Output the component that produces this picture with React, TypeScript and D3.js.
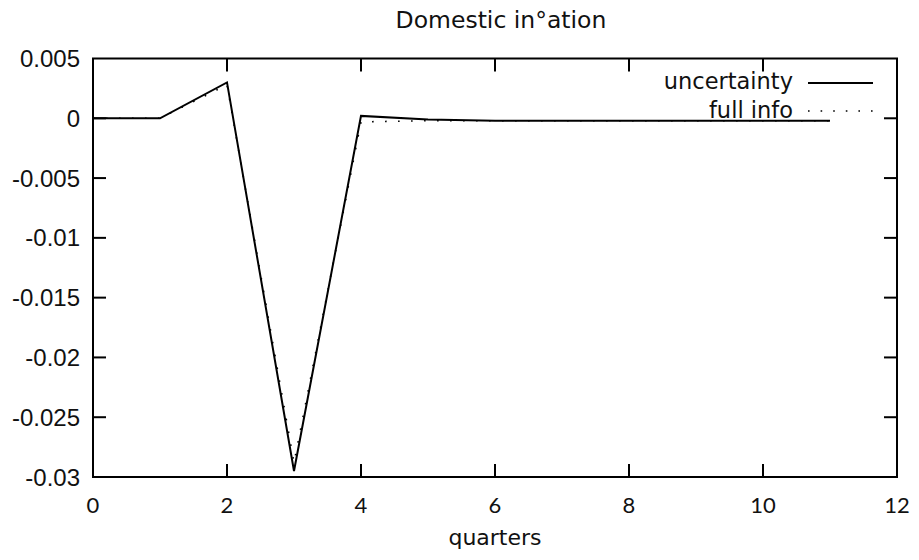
import React, { useEffect, useRef } from "react";
import * as d3 from "d3";

// quarters after the shock
const quarters = [0, 1, 2, 3, 4, 5, 6, 7, 8, 9, 10, 11];
// response of domestic inflation under uncertainty
const uncertainty = [0, 0, 0.003, -0.0295, 0.0002, -0.0001, -0.0002, -0.0002, -0.0002, -0.0002, -0.0002, -0.0002];
// response under full information
const fullInfo = [0, 0, 0.0028, -0.0288, -0.0003, -0.0002, -0.0002, -0.0002, -0.0002, -0.0002, -0.0002, -0.0002];

const xTicks = [0, 2, 4, 6, 8, 10, 12];
const yTicks = [0.005, 0, -0.005, -0.01, -0.015, -0.02, -0.025, -0.03];

const labelFont = "'DejaVu Sans', sans-serif";
const xTickFont = "Lato, sans-serif";
const yTickFont = "'Liberation Sans', Arial, sans-serif";

export default function App() {
  const svgRef = useRef<SVGSVGElement | null>(null);

  useEffect(() => {
    const svg = d3.select(svgRef.current);
    svg.selectAll("*").remove();

    const width = 919;
    const height = 560;
    const margin = { top: 58.5, right: 22, bottom: 83, left: 93 };

    const x = d3.scaleLinear().domain([0, 12]).range([margin.left, width - margin.right]);
    const y = d3.scaleLinear().domain([-0.03, 0.005]).range([height - margin.bottom, margin.top]);

    const tickLen = 13;
    const x0 = x(0), x1 = x(12), y0 = y(-0.03), y1 = y(0.005);

    // ticks on all four sides, pointing inwards (gnuplot style)
    const ticks = svg.append("g").attr("stroke", "#000").attr("stroke-width", 2);
    xTicks.slice(1, -1).forEach((t) => {
      ticks.append("line").attr("x1", x(t)).attr("x2", x(t)).attr("y1", y0).attr("y2", y0 - tickLen);
      ticks.append("line").attr("x1", x(t)).attr("x2", x(t)).attr("y1", y1).attr("y2", y1 + tickLen);
    });
    yTicks.slice(1, -1).forEach((t) => {
      ticks.append("line").attr("x1", x0).attr("x2", x0 + tickLen).attr("y1", y(t)).attr("y2", y(t));
      ticks.append("line").attr("x1", x1).attr("x2", x1 - tickLen).attr("y1", y(t)).attr("y2", y(t));
    });

    // border
    svg.append("rect")
      .attr("x", x0).attr("y", y1)
      .attr("width", x1 - x0).attr("height", y0 - y1)
      .attr("fill", "none").attr("stroke", "#000").attr("stroke-width", 2);

    // tick labels
    svg.append("g").selectAll("text").data(yTicks).join("text")
      .attr("x", 80).attr("y", (d) => y(d) + 8.5)
      .attr("text-anchor", "end")
      .attr("font-family", yTickFont).attr("font-size", 24)
      .attr("fill", "#111")
      .text((d) => (d === 0 ? "0" : String(d)));

    svg.append("g").selectAll("text").data(xTicks).join("text")
      .attr("x", (d) => x(d)).attr("y", 513)
      .attr("text-anchor", "middle")
      .attr("font-family", xTickFont).attr("font-size", 22)
      .attr("fill", "#111")
      .text((d) => String(d));

    // title and axis label
    svg.append("text")
      .attr("x", 501).attr("y", 28)
      .attr("text-anchor", "middle")
      .attr("font-family", labelFont).attr("font-size", 23.5)
      .attr("fill", "#111")
      .text("Domestic in°ation");

    svg.append("text")
      .attr("x", 495).attr("y", 545)
      .attr("text-anchor", "middle")
      .attr("font-family", labelFont).attr("font-size", 22)
      .attr("fill", "#111")
      .text("quarters");

    const line = d3.line<number>()
      .x((d, i) => x(quarters[i]))
      .y((d) => y(d));

    // full info (dotted) under the solid line
    svg.append("path")
      .datum(fullInfo)
      .attr("fill", "none").attr("stroke", "#000")
      .attr("stroke-width", 1.6).attr("stroke-dasharray", "1.6 11.4")
      .attr("d", line);

    svg.append("path")
      .datum(uncertainty)
      .attr("fill", "none").attr("stroke", "#000")
      .attr("stroke-width", 2).attr("stroke-linejoin", "miter")
      .attr("d", line);

    // legend
    const legend = [
      { name: "uncertainty", dash: null, y: 83, base: 88.5 },
      { name: "full info", dash: "1.6 11", y: 111, base: 118 },
    ];
    legend.forEach((l) => {
      svg.append("text")
        .attr("x", 793).attr("y", l.base)
        .attr("text-anchor", "end")
        .attr("font-family", labelFont).attr("font-size", 22.5)
        .attr("fill", "#111")
        .text(l.name);
      svg.append("line")
        .attr("x1", 808).attr("x2", 873).attr("y1", l.y).attr("y2", l.y)
        .attr("stroke", "#000")
        .attr("stroke-width", l.dash ? 1.6 : 2)
        .attr("stroke-dasharray", l.dash);
    });
  }, []);

  return (
    <div>
      <svg ref={svgRef} width={919} height={560} style={{ position: "absolute", left: 0, top: 0 }}></svg>
    </div>
  );
}
